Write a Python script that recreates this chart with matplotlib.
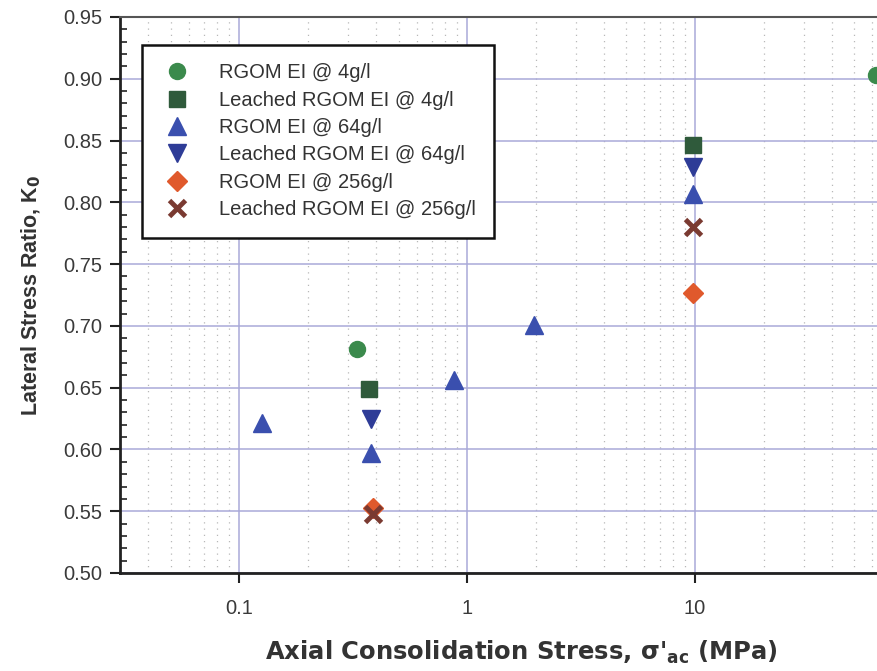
import matplotlib
matplotlib.use("Agg")
import matplotlib.pyplot as plt
from matplotlib.ticker import FixedLocator, MultipleLocator, NullFormatter, FormatStrFormatter

plt.rcParams["font.family"] = ["Liberation Sans", "DejaVu Sans"]
plt.rcParams["mathtext.fontset"] = "custom"
plt.rcParams["mathtext.rm"] = "DejaVu Sans"
plt.rcParams["mathtext.bf"] = "DejaVu Sans:bold"

# K0 measurements: axial consolidation stress (MPa) and lateral stress ratio
rgom_4_x = [0.33, 62.0]
rgom_4_y = [0.681, 0.903]
leached_4_x = [0.37, 9.8]
leached_4_y = [0.649, 0.846]
rgom_64_x = [0.126, 0.38, 0.88, 1.97, 9.8]
rgom_64_y = [0.621, 0.597, 0.656, 0.701, 0.807]
leached_64_x = [0.38, 9.8]
leached_64_y = [0.625, 0.829]
rgom_256_x = [0.385, 9.8]
rgom_256_y = [0.553, 0.727]
leached_256_x = [0.385, 9.8]
leached_256_y = [0.548, 0.780]

labels = [
    "RGOM EI @ 4g/l",
    "Leached RGOM EI @ 4g/l",
    "RGOM EI @ 64g/l",
    "Leached RGOM EI @ 64g/l",
    "RGOM EI @ 256g/l",
    "Leached RGOM EI @ 256g/l",
]
x_ticks = [0.1, 1, 10]
x_tick_labels = ["0.1", "1", "10"]

fig = plt.figure(figsize=(8.78, 6.71), dpi=100)
ax = fig.add_axes([120 / 878, 98 / 671, 803 / 878, 556 / 671])

ax.set_xscale("log")
ax.set_xlim(0.03, 100)
ax.set_ylim(0.50, 0.95)

ax.plot(rgom_4_x, rgom_4_y, "o", ms=11.5, color="#3b8a4c", mec="#3b8a4c", label=labels[0], zorder=5)
ax.plot(leached_4_x, leached_4_y, "s", ms=11, color="#2f5a3b", mec="#2f5a3b", label=labels[1], zorder=5)
ax.plot(rgom_64_x, rgom_64_y, "^", ms=13, color="#3a4fae", mec="#3a4fae", label=labels[2], zorder=5)
ax.plot(leached_64_x, leached_64_y, "v", ms=13, color="#2e3c97", mec="#2e3c97", label=labels[3], zorder=5)
ax.plot(rgom_256_x, rgom_256_y, "D", ms=10.5, color="#e0592c", mec="#e0592c", label=labels[4], zorder=5)
ax.plot(leached_256_x, leached_256_y, "x", ms=11, mew=3.5, color="#7a3a31", label=labels[5], zorder=6)

# grid: blue major lines, dotted minor lines along the log axis
ax.set_yticks([0.50, 0.55, 0.60, 0.65, 0.70, 0.75, 0.80, 0.85, 0.90, 0.95])
ax.yaxis.set_minor_locator(MultipleLocator(0.01))
ax.yaxis.set_major_formatter(FormatStrFormatter("%.2f"))
ax.xaxis.set_major_locator(FixedLocator(x_ticks))
ax.set_xticklabels(x_tick_labels)
ax.xaxis.set_minor_locator(FixedLocator(
    [m * 10.0 ** e for e in range(-2, 2) for m in range(2, 10)]))
ax.xaxis.set_minor_formatter(NullFormatter())
ax.grid(which="major", color="#a9a9d9", lw=1.1, zorder=0)
ax.axvline(100, color="#a9a9d9", lw=1.1, zorder=0)
ax.grid(which="minor", axis="x", color="#b8b8b8", lw=0.9, linestyle=(0, (1, 4)), zorder=0)
ax.set_axisbelow(True)

ax.tick_params(axis="both", which="major", direction="out", length=7, width=1.5,
               color="#222222", labelsize=14.5, labelcolor="#3a3a3a")
ax.tick_params(axis="y", which="minor", direction="in", length=5, width=1.2, color="#222222")
ax.tick_params(axis="x", which="minor", length=0)
ax.tick_params(axis="x", which="major", pad=12)
ax.tick_params(axis="y", which="major", pad=6)

for side in ("left", "bottom"):
    ax.spines[side].set_linewidth(2)
    ax.spines[side].set_color("#222222")
ax.spines["top"].set_linewidth(1.5)
ax.spines["top"].set_color("#555555")

ax.set_xlabel(r"Axial Consolidation Stress, σ'$_{\mathbf{ac}}$ (MPa)",
              fontsize=17.5, fontweight="bold", family="DejaVu Sans",
              color="#333333", labelpad=15)
ax.set_ylabel(r"Lateral Stress Ratio, K$_{\mathbf{0}}$",
              fontsize=15.5, fontweight="bold", color="#333333", labelpad=14)

leg = ax.legend(loc="upper left", bbox_to_anchor=(22 / 803, 528 / 556),
                borderaxespad=0, fancybox=False, framealpha=1,
                edgecolor="#111111", prop={"size": 14.5},
                labelspacing=0.42, handletextpad=1.2, borderpad=0.9,
                handlelength=1.7, numpoints=1)
leg.get_frame().set_linewidth(1.8)
for t in leg.get_texts():
    t.set_color("#333333")

fig.savefig("out.png", dpi=100)
